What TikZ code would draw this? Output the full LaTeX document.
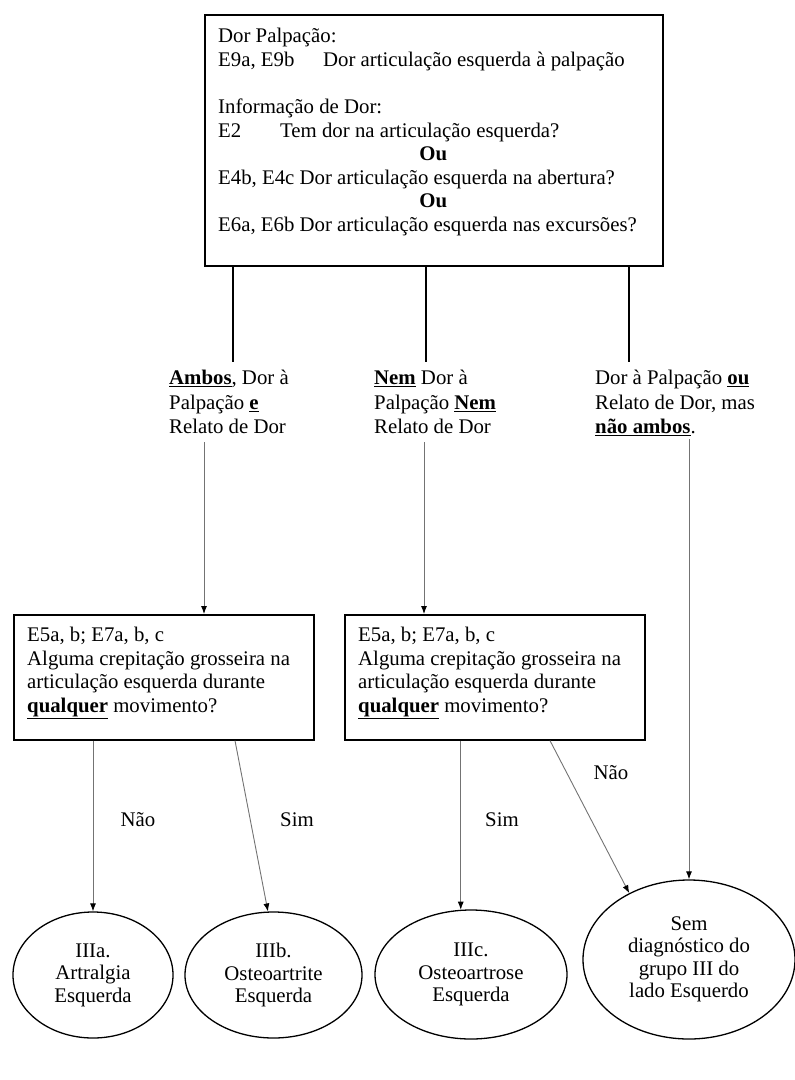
\documentclass[tikz,border=0pt]{standalone}
\usepackage{fontspec}
\setmainfont{Liberation Serif}
\usetikzlibrary{arrows.meta,shapes.geometric}
\begin{document}
\begin{tikzpicture}[x=1pt,y=-1pt,
  txt/.style={font=\fontsize{20.8}{23.6}\selectfont, inner sep=0pt, align=left, anchor=north west},
  lbl/.style={txt, font=\fontsize{20.8}{24.6}\selectfont},
  frame/.style={draw, line width=1.6pt, inner sep=0pt, anchor=north west},
  oval/.style={draw, line width=1.3pt, ellipse, inner sep=0pt, align=center, font=\fontsize{20.8}{22.5}\selectfont},
  arr/.style={draw=black!55, line width=0.9pt, -{Latex[length=8pt,width=6pt,color=black]}},
  stem/.style={draw, line width=1.4pt},
  elab/.style={font=\fontsize{20.8}{23.6}\selectfont, inner sep=0pt}
]
\useasboundingbox (0,0) rectangle (795,1080);

% top box
\node[frame, minimum width=458pt, minimum height=251pt] (top) at (204,14) {};
\node[txt] (toptext) at (218,28) {Dor Palpação:\\
\makebox[105pt][l]{E9a, E9b}Dor articulação esquerda à palpação\\[23.6pt]
Informação de Dor:\\
\makebox[62pt][l]{E2}Tem dor na articulação esquerda?\\
\makebox[430pt]{\textbf{Ou}}\\
E4b, E4c Dor articulação esquerda na abertura?\\
\makebox[430pt]{\textbf{Ou}}\\
E6a, E6b Dor articulação esquerda nas excursões?};

% branch labels
\node[lbl] (l1) at (169,370) {\underline{\textbf{Ambos}}, Dor à\\ Palpação \underline{\textbf{e}}\\ Relato de Dor};
\node[lbl] (l2) at (374,370) {\underline{\textbf{Nem}} Dor à\\ Palpação \underline{\textbf{Nem}}\\ Relato de Dor};
\node[lbl] (l3) at (595,370) {Dor à Palpação \underline{\textbf{ou}}\\ Relato de Dor, mas\\ \underline{\textbf{não ambos}}.};

% question boxes
\node[frame, minimum width=300pt, minimum height=125pt] (q1) at (13,614) {};
\node[txt] (q1t) at (27,627) {E5a, b; E7a, b, c\\ Alguma crepitação grosseira na\\ articulação esquerda durante\\ \underline{\textbf{qualquer}} movimento?};
\node[frame, minimum width=300pt, minimum height=125pt] (q2) at (344,614) {};
\node[txt] (q2t) at (358,627) {E5a, b; E7a, b, c\\ Alguma crepitação grosseira na\\ articulação esquerda durante\\ \underline{\textbf{qualquer}} movimento?};

% outcomes
\node[oval, minimum width=160pt, minimum height=126pt] (e1) at (93,975) {IIIa.\\ Artralgia\\ Esquerda};
\node[oval, minimum width=177pt, minimum height=126pt] (e2) at (273.5,975) {IIIb.\\ Osteoartrite\\ Esquerda};
\node[oval, minimum width=192pt, minimum height=129pt] (e3) at (471,974.5) {IIIc.\\ Osteoartrose\\ Esquerda};
\node[oval, minimum width=212pt, minimum height=159pt] (e4) at (689,959.5) {Sem\\ diagnóstico do\\ grupo III do\\ lado Esquerdo};

% edge labels
\node[elab] (n1) at (138,820) {Não};
\node[elab] (s1) at (297,820) {Sim};
\node[elab] (s2) at (502,820) {Sim};
\node[elab] (n2) at (611,773) {Não};

% helper x positions
\coordinate (c1) at (233,0);
\coordinate (c2) at (426,0);
\coordinate (c3) at (629,0);
\coordinate (a1) at (204,0);
\coordinate (a2) at (424,0);
\coordinate (c4) at (235,0);
\coordinate (c5) at (550,0);

% stems from top box
\draw[stem, shorten >=8pt] (top.south -| c1) -- (l1.north -| c1);
\draw[stem, shorten >=8pt] (top.south -| c2) -- (l2.north -| c2);
\draw[stem, shorten >=8pt] (top.south -| c3) -- (l3.north -| c3);

% arrows
\draw[arr, shorten <=8pt] (l1.south -| a1) -- (q1.north -| a1);
\draw[arr, shorten <=8pt] (l2.south -| a2) -- (q2.north -| a2);
\draw[arr, shorten <=3pt] (l3.south -| e4.north) -- (e4.north);
\draw[arr] (q1.south -| e1.north) -- (e1.north);
\draw[arr] (q1.south -| c4) -- (e2.95);
\draw[arr] (q2.south -| e3.99) -- (e3.99);
\draw[arr] (q2.south -| c5) -- (e4.132);
\end{tikzpicture}
\end{document}
